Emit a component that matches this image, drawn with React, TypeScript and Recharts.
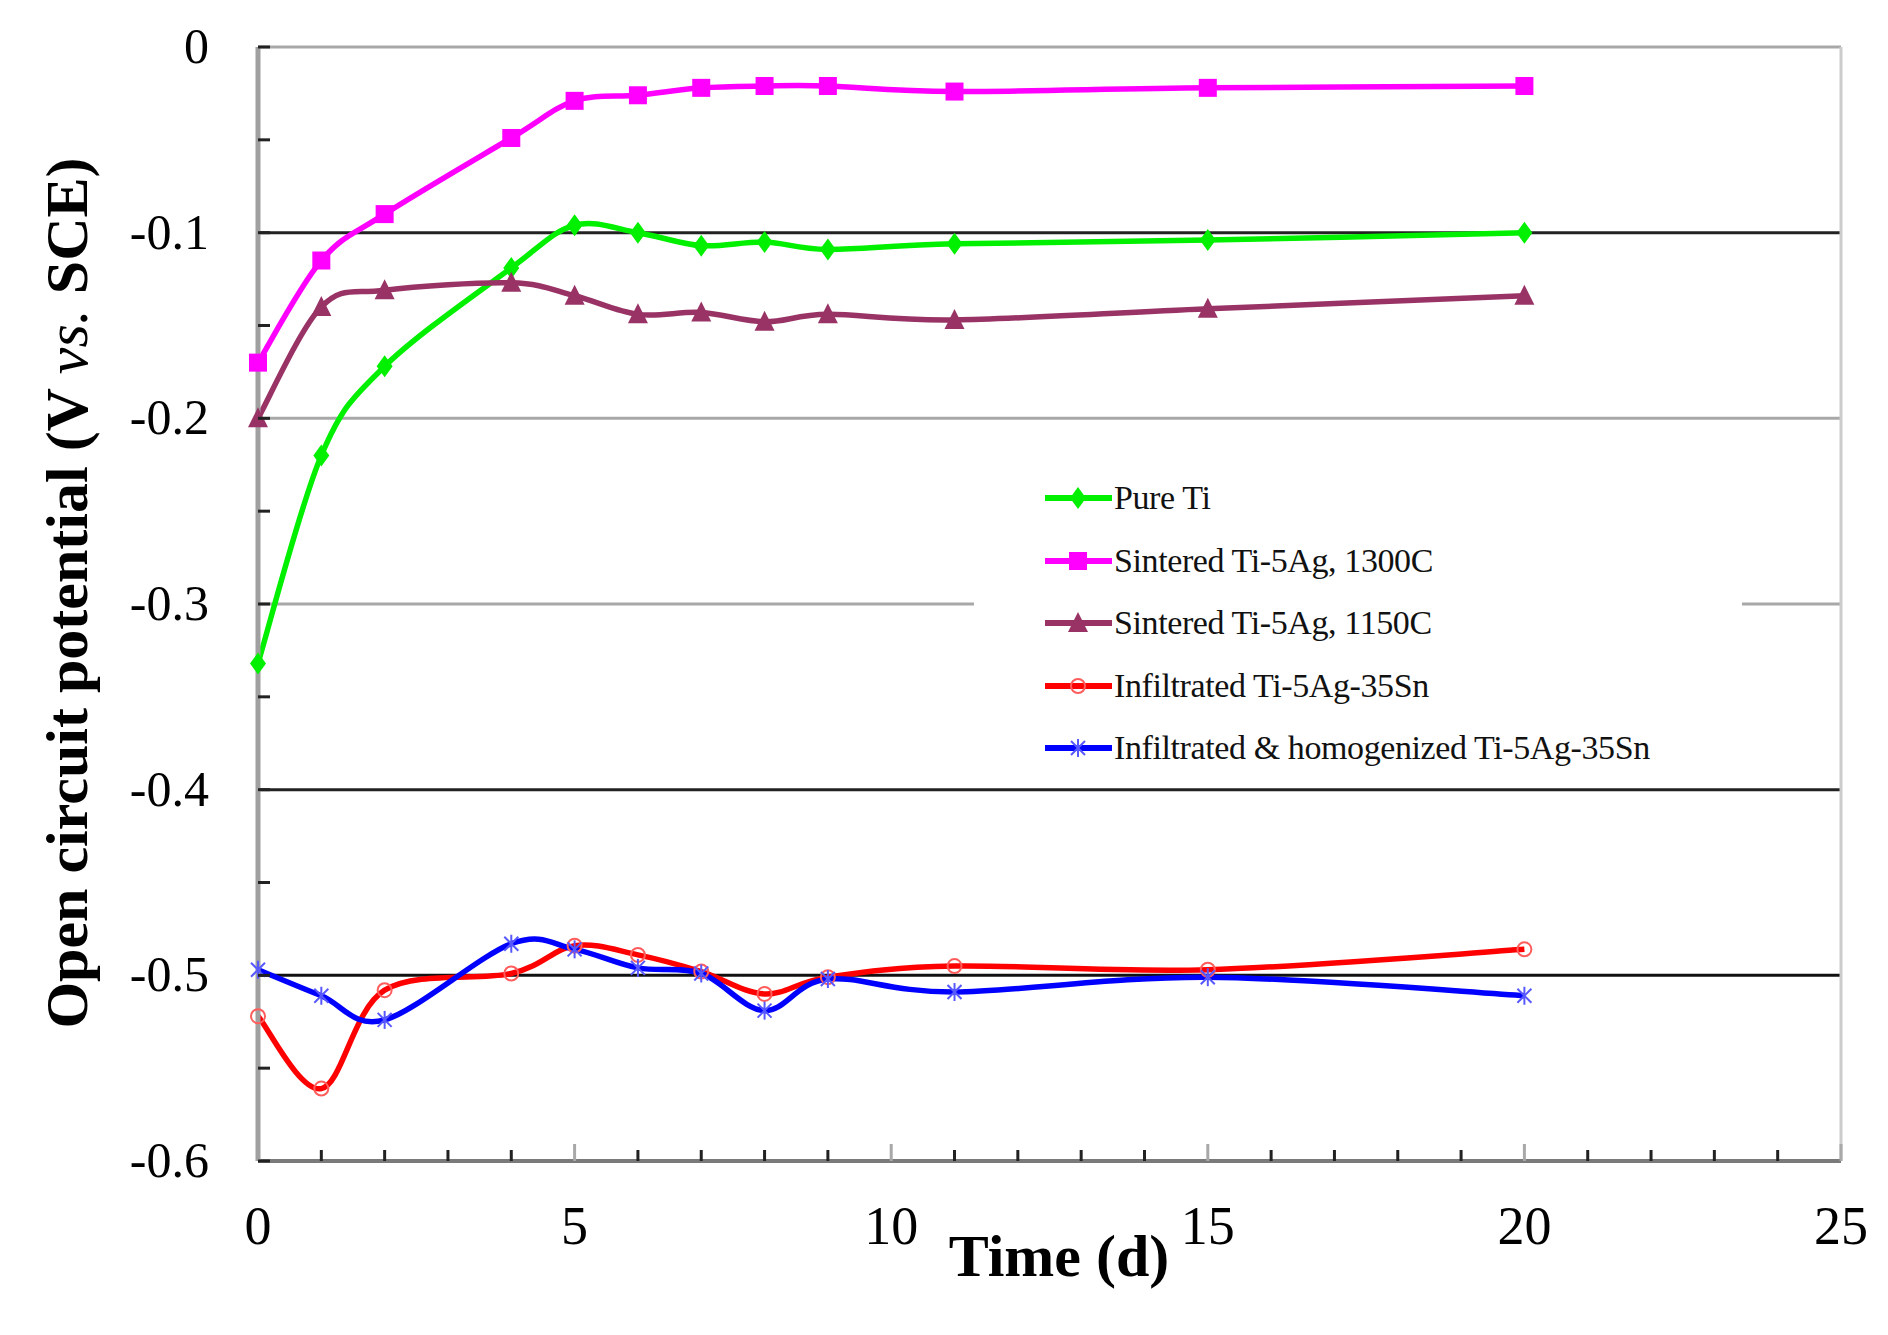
import React from 'react';
import { LineChart, Line, XAxis, YAxis, ReferenceLine, Legend } from 'recharts';

// ---- data ----
const days = [0, 1, 2, 4, 5, 6, 7, 8, 9, 11, 15, 20];
const pureTi = [-0.332, -0.22, -0.172, -0.119, -0.096, -0.1, -0.107, -0.105, -0.109, -0.106, -0.104, -0.1];
const sintered1300 = [-0.17, -0.115, -0.09, -0.049, -0.029, -0.026, -0.022, -0.021, -0.021, -0.024, -0.022, -0.021];
const sintered1150 = [-0.2, -0.14, -0.131, -0.127, -0.134, -0.144, -0.143, -0.148, -0.144, -0.147, -0.141, -0.134];
const infiltrated = [-0.522, -0.561, -0.508, -0.499, -0.484, -0.489, -0.498, -0.51, -0.501, -0.495, -0.497, -0.486];
const homogenized = [-0.497, -0.511, -0.524, -0.483, -0.486, -0.496, -0.499, -0.519, -0.502, -0.509, -0.501, -0.511];

const xTicks = [0, 1, 2, 3, 4, 5, 6, 7, 8, 9, 10, 11, 12, 13, 14, 15, 16, 17, 18, 19, 20, 21, 22, 23, 24, 25];
const yTicks = [0, -0.05, -0.1, -0.15, -0.2, -0.25, -0.3, -0.35, -0.4, -0.45, -0.5, -0.55, -0.6];
const gridValues = [-0.1, -0.2, -0.3, -0.4, -0.5];

const seriesNames = {
  pureTi: 'Pure Ti',
  sintered1300: 'Sintered Ti-5Ag, 1300C',
  sintered1150: 'Sintered Ti-5Ag, 1150C',
  infiltrated: 'Infiltrated Ti-5Ag-35Sn',
  homogenized: 'Infiltrated & homogenized Ti-5Ag-35Sn',
};

const data = days.map((d, i) => ({
  day: d,
  pureTi: pureTi[i],
  sintered1300: sintered1300[i],
  sintered1150: sintered1150[i],
  infiltrated: infiltrated[i],
  homogenized: homogenized[i],
}));

// ---- styles ----
const FONT = '"Liberation Serif", "Times New Roman", serif';
const SERIES_STYLE = [
  { key: 'pureTi', color: '#00f000', marker: 'diamond' },
  { key: 'sintered1300', color: '#ff00ff', marker: 'square' },
  { key: 'sintered1150', color: '#993366', marker: 'triangle' },
  { key: 'infiltrated', color: '#ff0000', marker: 'circle' },
  { key: 'homogenized', color: '#0000ff', marker: 'asterisk' },
];
const GRID_STYLE = {
  '-0.1': '#222222',
  '-0.2': '#a8a8a8',
  '-0.3': '#a8a8a8',
  '-0.4': '#222222',
  '-0.5': '#111111',
};

// Excel-like smoothed line (Catmull-Rom / cardinal with tension 0)
const smoothCurve = (context: any) => {
  let pts: number[][] = [];
  return {
    areaStart() {},
    areaEnd() {},
    lineStart() {
      pts = [];
    },
    lineEnd() {
      const n = pts.length;
      if (n === 0) return;
      context.moveTo(pts[0][0], pts[0][1]);
      if (n === 1) return;
      for (let i = 0; i < n - 1; i++) {
        const p0 = pts[i - 1] || pts[i];
        const p1 = pts[i];
        const p2 = pts[i + 1];
        const p3 = pts[i + 2] || pts[i + 1];
        const c1x = p1[0] + (p2[0] - p0[0]) / 6;
        const c1y = p1[1] + (p2[1] - p0[1]) / 6;
        const c2x = p2[0] - (p3[0] - p1[0]) / 6;
        const c2y = p2[1] - (p3[1] - p1[1]) / 6;
        context.bezierCurveTo(c1x, c1y, c2x, c2y, p2[0], p2[1]);
      }
    },
    point(x: number, y: number) {
      pts.push([+x, +y]);
    },
  };
};

const Marker = ({ shape, cx, cy, color }: any) => {
  if (cx == null || cy == null) return null;
  switch (shape) {
    case 'diamond':
      return <polygon points={`${cx},${cy - 11} ${cx + 8},${cy} ${cx},${cy + 11} ${cx - 8},${cy}`} fill={color} />;
    case 'square':
      return <rect x={cx - 9} y={cy - 9} width={18} height={18} fill={color} />;
    case 'triangle':
      return <polygon points={`${cx},${cy - 11} ${cx + 10},${cy + 9} ${cx - 10},${cy + 9}`} fill={color} />;
    case 'circle':
      return <circle cx={cx} cy={cy} r={7} fill="none" stroke="#ff5c5c" strokeWidth={2} />;
    case 'asterisk':
      return (
        <g stroke="#5858ff" strokeWidth={2}>
          <line x1={cx} y1={cy - 9} x2={cx} y2={cy + 9} />
          <line x1={cx - 7} y1={cy - 7} x2={cx + 7} y2={cy + 7} />
          <line x1={cx - 7} y1={cy + 7} x2={cx + 7} y2={cy - 7} />
        </g>
      );
    default:
      return null;
  }
};

const XTick = (props: any) => {
  const { x, y, payload } = props;
  const v = payload.value;
  const major = v % 5 === 0;
  return (
    <g>
      {v !== 0 && (
        <line x1={x} x2={x} y1={y} y2={y - (major ? 17 : 11)} stroke={major ? '#a8a8a8' : '#222'} strokeWidth={3} />
      )}
      {major && (
        <text x={x} y={y + 83} textAnchor="middle" fontFamily={FONT} fontSize={54} fill="#000">
          {v}
        </text>
      )}
    </g>
  );
};

const YTick = (props: any) => {
  const { x, y, payload } = props;
  const v = payload.value;
  const major = Math.round(v * 100) % 10 === 0;
  return (
    <g>
      <line x1={x} x2={x + 12} y1={y} y2={y} stroke="#222" strokeWidth={3} />
      {major && (
        <text x={x - 49} y={y + 16} textAnchor="end" fontFamily={FONT} fontSize={50} fill="#000">
          {v === 0 ? '0' : v.toFixed(1)}
        </text>
      )}
    </g>
  );
};

const LegendContent = (props: any) => {
  const payload = props.payload || [];
  return (
    <div style={{ paddingTop: 27, fontFamily: FONT }}>
      {SERIES_STYLE.map((st) => {
        const entry = payload.find((p: any) => p.dataKey === st.key);
        const label = entry ? entry.value : seriesNames[st.key];
        return (
          <div key={st.key} style={{ display: 'flex', alignItems: 'center', height: 62.5, marginLeft: 71 }}>
            <svg width={67} height={30} style={{ display: 'block' }}>
              <line x1={0} x2={67} y1={15} y2={15} stroke={st.color} strokeWidth={6} />
              <Marker shape={st.marker} cx={33} cy={15} color={st.color} />
            </svg>
            <span style={{ fontSize: 34, letterSpacing: -0.4, color: '#111', marginLeft: 2, whiteSpace: 'pre' }}>
              {label}
            </span>
          </div>
        );
      })}
    </div>
  );
};

export default function App() {
  return (
    <div style={{ position: 'absolute', left: 0, top: 0, background: '#fff' }}>
      <LineChart width={1888} height={1335} data={data} margin={{ top: 47, right: 47, left: 58, bottom: 54 }}>
        {gridValues.map((g) => (
          <ReferenceLine key={g} y={g} stroke={GRID_STYLE[String(g)]} strokeWidth={3} />
        ))}
        <ReferenceLine y={0} stroke="#a8a8a8" strokeWidth={3} />
        <ReferenceLine x={25} stroke="#cccccc" strokeWidth={3} />
        <XAxis
          dataKey="day"
          type="number"
          domain={[0, 25]}
          ticks={xTicks}
          interval={0}
          height={120}
          tickSize={0}
          tickMargin={0}
          tickLine={false}
          tick={<XTick />}
          axisLine={{ stroke: '#7a7a7a', strokeWidth: 4 }}
          label={{
            content: () => (
              <text x={1059} y={1276} textAnchor="middle" fontFamily={FONT} fontSize={60} fontWeight="bold" fill="#000">
                Time (d)
              </text>
            ),
          }}
        />
        <YAxis
          type="number"
          domain={[-0.6, 0]}
          ticks={yTicks}
          interval={0}
          width={200}
          tickSize={0}
          tickMargin={0}
          tickLine={false}
          tick={<YTick />}
          allowDataOverflow
          axisLine={{ stroke: '#a0a0a0', strokeWidth: 5 }}
          label={{
            content: () => (
              <text
                x={67}
                y={593}
                transform="rotate(-90 67 593)"
                textAnchor="middle"
                dominantBaseline="central"
                fontFamily={FONT}
                fontSize={60}
                fill="#000"
                style={{ whiteSpace: 'pre' }}
              >
                <tspan fontWeight="bold">{'Open circuit potential (V '}</tspan>
                <tspan fontStyle="italic" fontWeight="normal">{'vs.'}</tspan>
                <tspan fontWeight="bold">{' SCE)'}</tspan>
              </text>
            ),
          }}
        />
        <Legend
          layout="vertical"
          align="center"
          verticalAlign="middle"
          content={<LegendContent />}
          wrapperStyle={{ left: 974, top: 440, width: 768, height: 344, background: '#fff' }}
        />
        {SERIES_STYLE.map((s) => (
          <Line
            key={s.key}
            dataKey={s.key}
            name={seriesNames[s.key]}
            type={smoothCurve as any}
            stroke={s.color}
            strokeWidth={5.5}
            isAnimationActive={false}
            dot={(p: any) => <Marker key={`${s.key}-${p.index}`} shape={s.marker} cx={p.cx} cy={p.cy} color={s.color} />}
            activeDot={false}
          />
        ))}
      </LineChart>
    </div>
  );
}
